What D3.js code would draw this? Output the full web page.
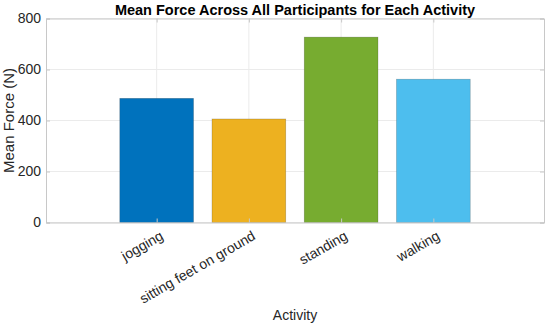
<!DOCTYPE html>
<html>
<head>
<meta charset="utf-8">
<script src="https://cdn.jsdelivr.net/npm/d3@7"></script>
<style>
  body { margin: 0; background: #fff; }
  text { font-family: "Liberation Sans", Arial, sans-serif; }
</style>
</head>
<body>
<div id="chart"></div>
<script>
// data
const activities = ["jogging", "sitting feet on ground", "standing", "walking"];
const meanForce = [487, 406, 727, 562];
const barColors = ["#0072BD", "#EDB120", "#77AC30", "#4DBEEE"];
const yTicks = [0, 200, 400, 600, 800];

const W = 550, H = 326;
const margin = {top: 18.5, right: 6, bottom: 103.5, left: 46};
const width = W - margin.left - margin.right;
const height = H - margin.top - margin.bottom;

const svg = d3.select("#chart").append("svg")
  .attr("width", W)
  .attr("height", H);

const chart = svg.append("g")
  .attr("transform", `translate(${margin.left},${margin.top})`);

// categorical x placed like matlab: index 1..4 on a linear axis
let x = d3.scaleLinear()
  .domain([-0.2, 5.2])
  .range([0, width]);
let barW = (x(1.8) - x(1)) ;

let y = d3.scaleLinear()
  .domain([0, 800])
  .range([height, 0]);

const gridCol = "#ebebeb";
const axisCol = "#c8c8c8";
const textCol = "#262626";

// grid
chart.append("g").selectAll("line.hg")
  .data(yTicks)
  .enter().append("line")
  .attr("x1", 0).attr("x2", width)
  .attr("y1", d => y(d)).attr("y2", d => y(d))
  .attr("stroke", gridCol).attr("stroke-width", 1);

chart.append("g").selectAll("line.vg")
  .data(activities)
  .enter().append("line")
  .attr("x1", (d, i) => x(i + 1)).attr("x2", (d, i) => x(i + 1))
  .attr("y1", 0).attr("y2", height)
  .attr("stroke", gridCol).attr("stroke-width", 1);

// bars
chart.selectAll("rect.bar")
  .data(meanForce)
  .enter().append("rect")
  .attr("class", "bar")
  .attr("x", (d, i) => x(i + 1) - barW / 2)
  .attr("width", barW)
  .attr("y", d => y(d))
  .attr("height", d => height - y(d))
  .attr("fill", (d, i) => barColors[i])
  .attr("stroke", "#333")
  .attr("stroke-opacity", 0.35)
  .attr("stroke-width", 0.6);

// axes (box with inward ticks)
const yAxis = chart.append("g")
  .call(d3.axisLeft(y).tickValues(yTicks).tickSize(-4).tickPadding(5));
const yAxisR = chart.append("g")
  .attr("transform", `translate(${width},0)`)
  .call(d3.axisRight(y).tickValues(yTicks).tickSize(-4).tickFormat(""));
const xAxis = chart.append("g")
  .attr("transform", `translate(0,${height})`)
  .call(d3.axisBottom(x).tickValues([1, 2, 3, 4]).tickSize(-4)
    .tickFormat(d => activities[d - 1]));
const xAxisT = chart.append("g")
  .call(d3.axisTop(x).tickValues([1, 2, 3, 4]).tickSize(-4).tickFormat(""));

[yAxis, yAxisR, xAxis, xAxisT].forEach(a => {
  a.select(".domain").attr("stroke", axisCol);
  a.selectAll(".tick line").attr("stroke", axisCol);
});

yAxis.selectAll("text")
  .attr("fill", textCol)
  .style("font-size", "14px");

xAxis.selectAll("text")
  .attr("fill", textCol)
  .style("font-size", "14px")
  .style("text-anchor", "end")
  .attr("dx", "0.25em")
  .attr("dy", "0.35em")
  .attr("transform", "translate(0,11) rotate(-30)");

// title
svg.append("text")
  .attr("x", margin.left + width / 2)
  .attr("y", 15)
  .attr("text-anchor", "middle")
  .attr("fill", "#000")
  .style("font-size", "14.5px")
  .style("font-weight", "bold")
  .text("Mean Force Across All Participants for Each Activity");

// axis labels
svg.append("text")
  .attr("transform", `translate(14,${margin.top + height / 2}) rotate(-90)`)
  .attr("text-anchor", "middle")
  .attr("fill", textCol)
  .style("font-size", "15px")
  .text("Mean Force (N)");

svg.append("text")
  .attr("x", margin.left + width / 2)
  .attr("y", 320)
  .attr("text-anchor", "middle")
  .attr("fill", textCol)
  .style("font-size", "14px")
  .text("Activity");
</script>
</body>
</html>
